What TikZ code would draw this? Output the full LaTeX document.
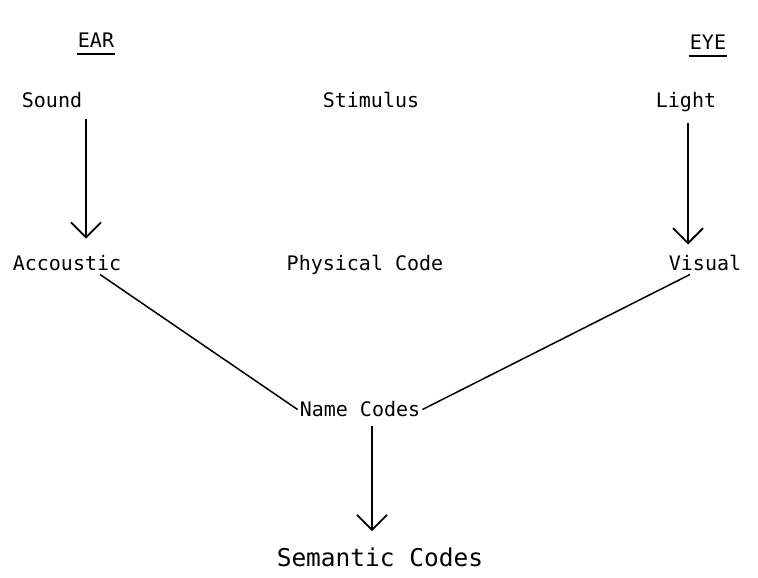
\documentclass[tikz,border=0pt]{standalone}
\usepackage{fontspec}
\setmainfont{DejaVu Sans Mono}
\usetikzlibrary{arrows.meta,calc}
\begin{document}
\begin{tikzpicture}[x=1pt,y=-1pt,
  lbl/.style={font=\fontsize{20}{22}\selectfont, inner sep=2pt, anchor=base},
  big/.style={font=\fontsize{24.5}{26}\selectfont, inner sep=2pt, anchor=base},
  arr/.style={line width=1.8pt, -{Straight Barb[length=15pt,width=30pt,line width=1.8pt]}},
  link/.style={line width=1.5pt}]
\useasboundingbox (0,0) rectangle (758,578);
\node[lbl] (ear) at (96,48) {EAR};
\draw[line width=1.8pt] ($(ear.base west)+(1,6)$) coordinate (earu1) -- ($(ear.base east)+(-1,6)$) coordinate (earu2);
\node[lbl] (eye) at (708,50) {EYE};
\draw[line width=1.8pt] ($(eye.base west)+(1,6)$) coordinate (eyeu1) -- ($(eye.base east)+(-1,6)$) coordinate (eyeu2);
\node[lbl] (sound) at (52,107) {Sound};
\node[lbl] (stim) at (371,107) {Stimulus};
\node[lbl] (light) at (686,107) {Light};
\node[lbl] (acc) at (67,270) {Accoustic};
\node[lbl] (phys) at (365,270) {Physical Code};
\node[lbl] (vis) at (705,270) {Visual};
\node[lbl] (name) at (360,416) {Name Codes};
\node[big] (sem) at (380,566) {Semantic Codes};
\draw[arr] ($(sound.south)+(34,10)$) -- ($(acc.north)+(19,-14)$);
\draw[arr] ($(light.south)+(2,10)$) -- ($(vis.north)+(-17,-8)$);
\draw[arr] ($(name.south)+(12,8)$) -- ($(sem.north)+(-8,-14)$);
\draw[link] ($(acc.south)+(33,2)$) -- ($(name.west)+(0,1)$);
\draw[link] ($(name.east)+(0,1)$) -- ($(vis.south)+(-15,2)$);
\end{tikzpicture}
\end{document}
